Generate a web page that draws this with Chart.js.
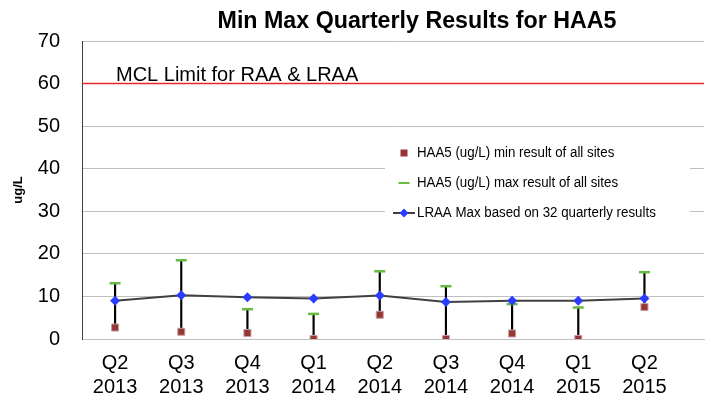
<!DOCTYPE html>
<html>
<head>
<meta charset="utf-8">
<script src="https://cdn.jsdelivr.net/npm/chart.js@4"></script>
<style>
html,body{margin:0;padding:0;background:#fff;overflow:hidden;}
#wrap{width:712px;height:404px;position:relative;}
</style>
</head>
<body>
<div id="wrap"><canvas id="c" width="712" height="404"></canvas></div>
<script>
const categories = [["Q2","2013"],["Q3","2013"],["Q4","2013"],["Q1","2014"],["Q2","2014"],["Q3","2014"],["Q4","2014"],["Q1","2015"],["Q2","2015"]];
const minValues = [2.7, 1.7, 1.4, 0.0, 5.7, 0.0, 1.3, 0.0, 7.5];
const maxValues = [13.1, 18.5, 7.0, 5.9, 15.9, 12.4, 8.2, 7.4, 15.7];
const lraaValues = [9.0, 10.3, 9.8, 9.5, 10.2, 8.7, 9.0, 9.0, 9.5];
const mclLimit = 60;
const yTicks = [0, 10, 20, 30, 40, 50, 60, 70];
const seriesNames = ["HAA5 (ug/L) min result of all sites", "HAA5 (ug/L) max result of all sites", "LRAA Max based on 32 quarterly results"];
const titleText = "Min Max Quarterly Results for HAA5";
const mclText = "MCL Limit for RAA & LRAA";
const yTitle = "ug/L";

const FONT = "'Liberation Sans', Arial, sans-serif";
const MINC = '#953735', MAXC = '#66bb44', LRAAC = '#2b3bff', LINEC = '#404040';

const pts = a => a.map((v, i) => ({x: i, y: v}));

function narrowText(ctx, text, x, y, sx, align) {
  const w = ctx.measureText(text).width * sx;
  let left = x;
  if (align === 'center') left = x - w / 2;
  ctx.save();
  ctx.translate(left, y);
  ctx.scale(sx, 1);
  ctx.textAlign = 'left';
  ctx.fillText(text, 0, 0);
  ctx.restore();
}

const overlay = {
  id: 'overlay',
  beforeDatasetsDraw(chart) {
    const ctx = chart.ctx, ys = chart.scales.y, ca = chart.chartArea;
    const yl = ys.getPixelForValue(mclLimit);
    ctx.save();
    ctx.strokeStyle = '#e8262a';
    ctx.lineWidth = 1.5;
    ctx.beginPath(); ctx.moveTo(ca.left, yl); ctx.lineTo(ca.right, yl); ctx.stroke();
    ctx.fillStyle = '#000';
    ctx.font = '20px ' + FONT;
    ctx.textBaseline = 'alphabetic';
    narrowText(ctx, mclText, 116, yl - 3, 1.0, 'left');
    const lx = 385, ly = 136;
    ctx.fillStyle = '#fff';
    ctx.fillRect(lx, ly, 305, 94);
    ctx.font = '14px ' + FONT;
    ctx.textBaseline = 'middle';
    const rows = [153, 183, 213];
    const mx = 404;
    ctx.fillStyle = MINC; ctx.fillRect(mx - 3.5, rows[0] - 3.5, 7, 7);
    ctx.strokeStyle = MAXC; ctx.lineWidth = 2;
    ctx.beginPath(); ctx.moveTo(mx - 5.5, rows[1]); ctx.lineTo(mx + 5.5, rows[1]); ctx.stroke();
    ctx.strokeStyle = LINEC; ctx.lineWidth = 2;
    ctx.beginPath(); ctx.moveTo(mx - 11, rows[2]); ctx.lineTo(mx + 11, rows[2]); ctx.stroke();
    ctx.fillStyle = LRAAC;
    ctx.beginPath(); ctx.moveTo(mx, rows[2] - 4.5); ctx.lineTo(mx + 4.5, rows[2]); ctx.lineTo(mx, rows[2] + 4.5); ctx.lineTo(mx - 4.5, rows[2]); ctx.closePath(); ctx.fill();
    ctx.fillStyle = '#000';
    seriesNames.forEach((s, i) => narrowText(ctx, s, 417, rows[i], 0.95, 'left'));
    ctx.restore();
  },
  afterDraw(chart) {
    const ctx = chart.ctx;
    ctx.save();
    ctx.fillStyle = '#000';
    ctx.font = 'bold 23px ' + FONT;
    ctx.textBaseline = 'alphabetic';
    narrowText(ctx, titleText, 417, 28, 1.01, 'center');
    ctx.restore();
  }
};

new Chart(document.getElementById('c'), {
  data: {
    datasets: [
      {
        type: 'line', label: seriesNames[2], data: pts(lraaValues), order: 0,
        borderColor: LINEC, borderWidth: 2, backgroundColor: LRAAC,
        pointStyle: 'rectRot', pointRadius: 5, pointBackgroundColor: LRAAC, pointBorderColor: LRAAC, pointBorderWidth: 0,
        tension: 0
      },
      {
        type: 'line', label: seriesNames[0], data: pts(minValues), order: 1, showLine: false,
        pointStyle: 'rect', pointRadius: 5, pointBackgroundColor: MINC, pointBorderColor: '#c9a0a0', pointBorderWidth: 1
      },
      {
        type: 'line', label: seriesNames[1], data: pts(maxValues), order: 2, showLine: false,
        pointStyle: 'line', pointRadius: 5.5, pointBorderColor: MAXC, pointBorderWidth: 2.5
      },
      {
        type: 'bar', label: 'range', data: minValues.map((v, i) => ({x: i, y: [v, maxValues[i]]})), order: 3,
        backgroundColor: '#000', barThickness: 1.5, borderWidth: 0
      }
    ]
  },
  options: {
    responsive: false, animation: false,
    layout: {padding: {top: 41, right: 5, left: 0, bottom: 0}},
    plugins: {legend: {display: false}, tooltip: {enabled: false}},
    scales: {
      x: {
        type: 'linear', min: -0.5, max: 8.9, offset: false,
        afterBuildTicks(s) { s.ticks = categories.map((c, i) => ({value: i})); },
        afterFit(s) { s.height = 65; },
        ticks: {
          callback: (v) => categories[v], color: '#000',
          font: {family: FONT, size: 20}, padding: 12, maxRotation: 0, autoSkip: false
        },
        grid: {display: false, drawTicks: false},
        border: {color: '#bfbfbf', width: 1}
      },
      y: {
        min: 0, max: 70,
        afterBuildTicks(s) { s.ticks = yTicks.map(v => ({value: v})); },
        afterFit(s) { s.width = 82; },
        ticks: {color: '#000', font: {family: FONT, size: 20}, padding: 22},
        grid: {color: '#bfbfbf', lineWidth: 1, drawTicks: false},
        border: {color: '#404040', width: 1},
        title: {display: true, text: yTitle, color: '#000', font: {family: FONT, size: 13, weight: 'bold'}, padding: {top: 11, bottom: 0}}
      }
    }
  },
  plugins: [overlay]
});
</script>
</body>
</html>
